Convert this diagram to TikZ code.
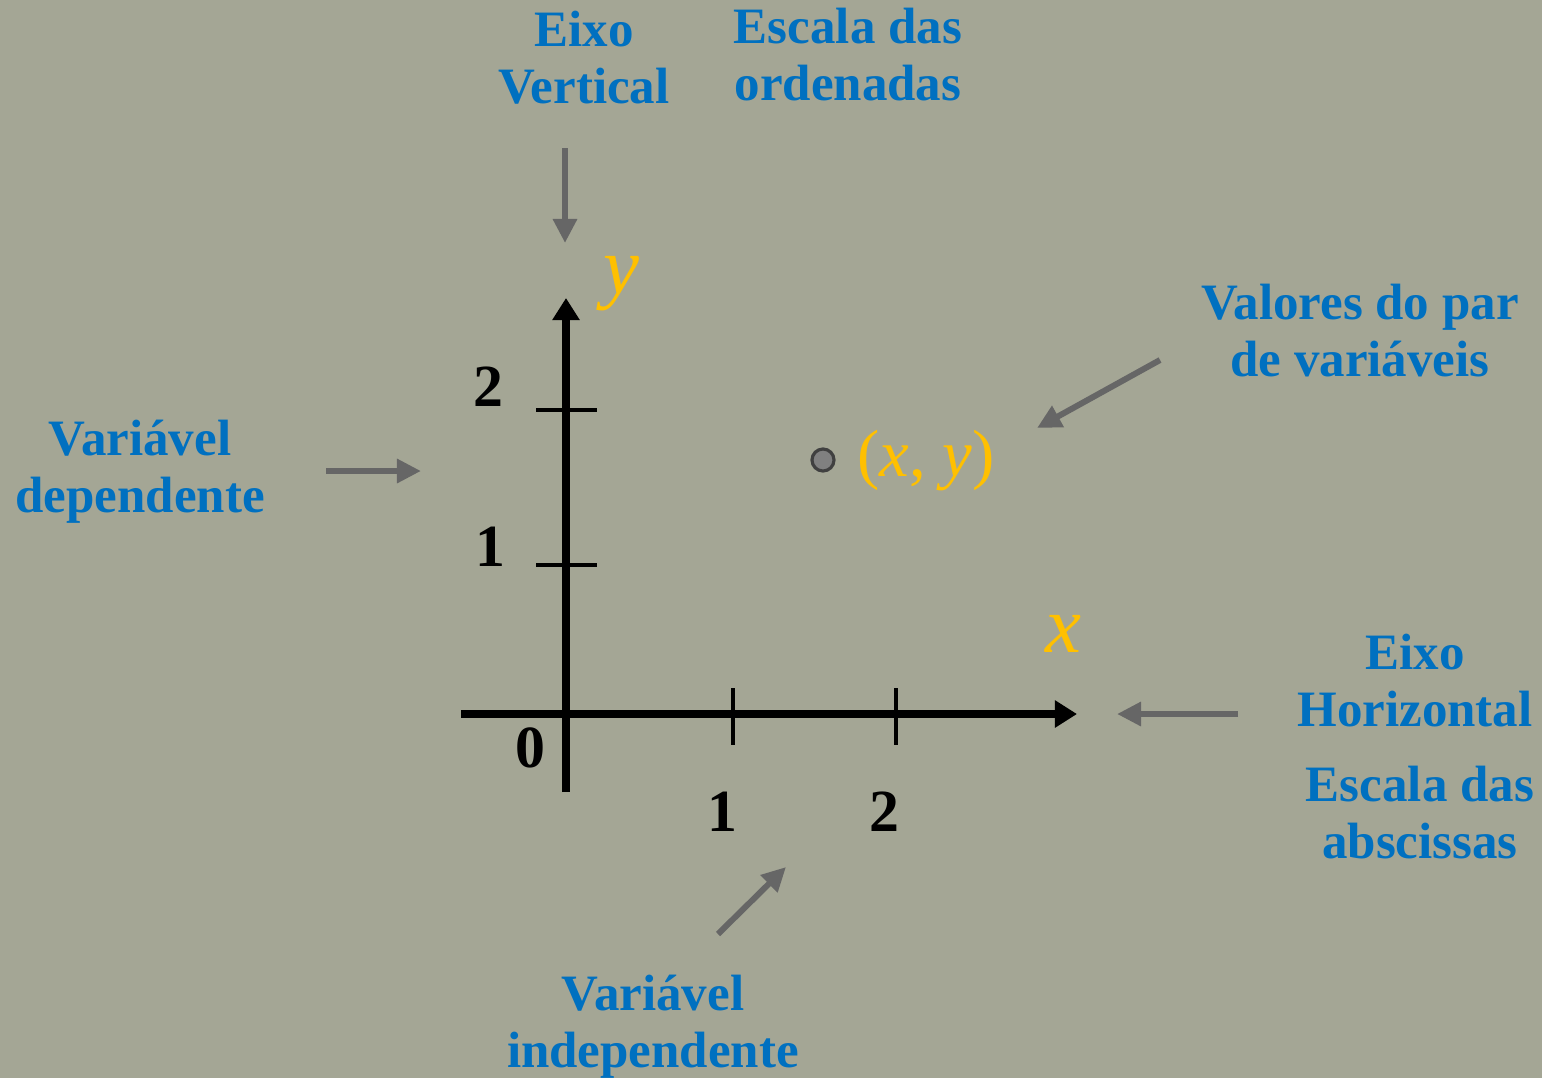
\documentclass[tikz,border=0pt]{standalone}
\usepackage{fontspec}
\setmainfont{Liberation Serif}
\usetikzlibrary{arrows.meta}
\definecolor{bgolive}{RGB}{164,166,149}
\definecolor{noteblue}{RGB}{0,112,192}
\definecolor{vargold}{RGB}{255,192,0}
\definecolor{pointergray}{RGB}{102,102,102}
\begin{document}
\begin{tikzpicture}[x=0.01cm, y=-0.01cm]
            % Define styles
            \tikzstyle{note} = [text=noteblue, align=center, inner sep=0pt, font=\fontsize{14.5}{16.2}\selectfont\bfseries]
            \tikzstyle{num} = [inner sep=0pt, font=\fontsize{17}{19}\selectfont\bfseries]
            \tikzstyle{axisvar} = [text=vargold, inner sep=0pt, font=\fontsize{23}{25}\selectfont\itshape]
            \tikzstyle{pairvar} = [text=vargold, inner sep=0pt, font=\fontsize{19}{21}\selectfont]
            \tikzstyle{pointer} = [pointergray, line width=1.7pt, -{Triangle[length=0.24cm, width=0.23cm]}]
            \tikzstyle{axis} = [black, line width=2pt, -{Triangle[length=0.22cm, width=0.26cm]}]
            \tikzstyle{tick} = [black, line width=0.9pt]

            % Background
            \fill[bgolive] (0,0) rectangle (1542,1078);
            \useasboundingbox (0,0) rectangle (1542,1078);

            % Axes
            \coordinate (origin) at (566,714);
            \coordinate (xstart) at (461,714);
            \coordinate (xend) at (1077,714);
            \coordinate (ystart) at (566,792);
            \coordinate (yend) at (566,298);
            \draw [axis] (xstart) -- (xend);
            \draw [axis] (ystart) -- (yend);

            % Ticks
            \draw [tick] (733,688) -- (733,745);
            \draw [tick] (896,688) -- (896,745);
            \draw [tick] (536,410) -- (597,410);
            \draw [tick] (536,565) -- (597,565);

            % Scale numbers
            \node (zero) [num] at (530,748) {0};
            \node (xone) [num] at (722,812) {1};
            \node (xtwo) [num] at (884,812) {2};
            \node (yone) [num] at (490,547) {1};
            \node (ytwo) [num] at (488,387) {2};

            % Variables
            \node (ylabel) [axisvar] at (621,284) {y};
            \node (xlabel) [axisvar] at (1063,634) {x};
            \draw [fill={rgb,255:red,128;green,128;blue,128}, draw={rgb,255:red,64;green,64;blue,64}, line width=0.9pt] (823,460) circle (0.11cm);
            \node (pair) [pairvar] at (926,461) {({\itshape x}, {\itshape y})};

            % Notes
            \node (vaxis) [note] at (584,58) {Eixo\\Vertical};
            \node (yscale) [note] at (848,55) {Escala das\\ordenadas};
            \node (pairnote) [note] at (1360,331) {Valores do par\\de variáveis};
            \node (depvar) [note] at (140,472) {Variável\\dependente};
            \node (haxis) [note] at (1415,681) {Eixo\\Horizontal};
            \node (xscale) [note] at (1420,813) {Escala das\\abscissas};
            \node (indvar) [note] at (653,1027) {Variável\\independente};

            % Pointer arrows
            \coordinate (vaxis_tail) at (565,148);
            \coordinate (vaxis_head) at (565,243);
            \coordinate (dep_tail) at (326,471);
            \coordinate (dep_head) at (421,471);
            \coordinate (pair_tail) at (1160,360);
            \coordinate (pair_head) at (1037,428);
            \coordinate (haxis_tail) at (1238,714);
            \coordinate (haxis_head) at (1117,714);
            \coordinate (ind_tail) at (718,934);
            \coordinate (ind_head) at (786,867);
            \draw [pointer] (vaxis_tail) -- (vaxis_head);
            \draw [pointer] (dep_tail) -- (dep_head);
            \draw [pointer] (pair_tail) -- (pair_head);
            \draw [pointer] (haxis_tail) -- (haxis_head);
            \draw [pointer] (ind_tail) -- (ind_head);

      \end{tikzpicture}
\end{document}
